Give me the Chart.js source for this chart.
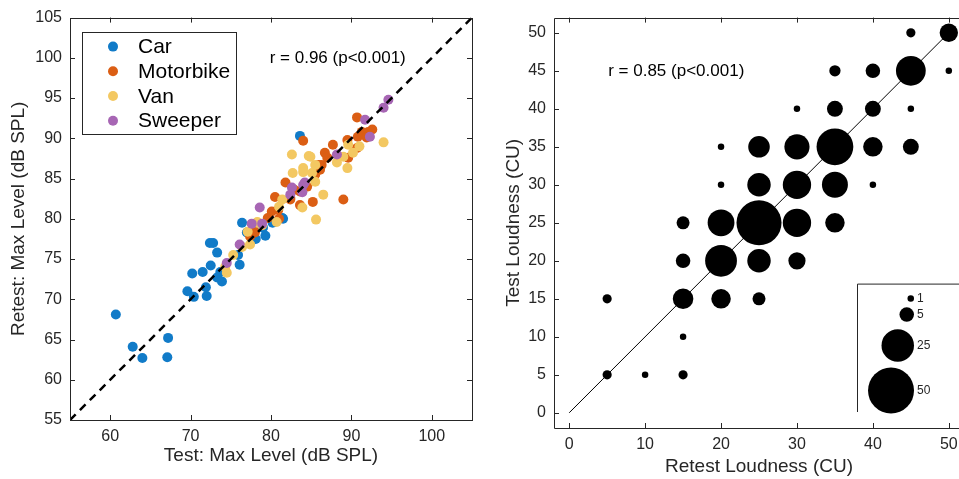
<!DOCTYPE html>
<html><head><meta charset="utf-8">
<script src="https://cdn.jsdelivr.net/npm/chart.js@4.4.0/dist/chart.umd.min.js"></script>
<style>
html,body{margin:0;padding:0;width:959px;height:479px;overflow:hidden;background:#fff;}
#w1{position:absolute;left:0;top:0;width:490px;height:479px;}
#clip{position:absolute;left:490px;top:0;width:469px;height:479px;overflow:hidden;}
#w2{position:absolute;left:0;top:0;width:510px;height:479px;}
</style></head><body>
<div id="w1"><canvas id="c1"></canvas></div>
<div id="clip"><div id="w2"><canvas id="c2"></canvas></div></div>
<script>
// ---------- Left panel data (Test vs Retest max level, dB SPL) ----------
const carTest    = [60.7,62.8,64.0,67.1,67.2,83.6,76.4,72.8,73.3,72.5,70.2,71.5,73.3,73.7,73.9,71.9,69.6,70.4,72.0,76.1,75.9,78.1,79.0,78.1,79.3,81.4,80.2,77.0,81.5,72.4];
const carRetest  = [68.1,64.1,62.7,62.8,65.2,90.3,79.5,77.0,75.8,74.2,73.2,73.4,72.7,73.4,72.2,71.5,71.0,70.3,70.4,74.3,75.5,78.8,78.9,77.5,77.9,80.1,79.5,78.3,80.0,77.0];
const motoTest   = [90.7,91.3,90.8,92.1,92.6,91.9,89.5,87.7,90.7,86.7,87.0,86.3,86.1,89.6,84.0,85.2,89.0,83.6,81.8,82.9,82.4,83.6,82.4,80.5,79.6,80.1,80.9,77.8,77.4,85.9,85.5,84.5,81.0,78.0];
const motoRetest = [92.6,90.8,90.2,90.8,91.1,90.1,89.8,89.2,88.8,88.2,87.6,86.7,86.1,87.6,89.7,82.1,82.4,83.4,84.5,83.6,82.6,81.7,82.4,82.7,80.1,80.9,81.1,78.6,77.8,86.7,85.5,84.0,80.0,78.3];
const vanTest    = [94.0,89.6,90.2,89.0,88.2,89.5,84.9,85.5,84.0,85.5,86.5,82.6,84.7,84.0,85.1,82.7,81.4,80.7,78.3,78.9,83.9,85.6,77.1,78.3,77.4,76.4,75.3,74.5,74.3,81.0,91.0];
const vanRetest  = [89.5,89.2,88.2,87.7,87.0,86.3,87.7,86.7,86.3,84.6,83.0,88.0,87.8,85.8,85.7,85.7,82.4,79.6,79.6,79.2,81.4,79.9,78.4,79.5,76.8,76.5,75.5,73.3,74.0,81.5,89.0];
const swpTest    = [94.6,94.0,91.7,92.3,88.2,84.0,84.2,82.6,83.9,82.4,78.6,77.6,76.1,74.5,78.9];
const swpRetest  = [94.8,93.8,92.3,90.2,88.0,84.2,84.5,83.9,83.3,83.0,81.4,79.4,76.8,74.5,79.4];
const leftXTicks = [60,70,80,90,100];
const leftYTicks = [55,60,65,70,75,80,85,90,95,100,105];
const leftR = "r = 0.96 (p<0.001)";

// ---------- Right panel data (loudness, CU; count per cell) ----------
const bubRetest = [45,50, 35,40,45,50, 30,35,40,45, 20,25,30,35,40,45, 20,25,30,35,40, 15,20,25,30,35, 15,20,25,30, 5,15,20,25, 15, 5,10,15];
const bubTest   = [50,50, 45,45,45,45, 40,40,40,40, 35,35,35,35,35,35, 30,30,30,30,30, 25,25,25,25,25, 20,20,20,20, 15,15,15,15, 10, 5,5,5];
const bubCount  = [2,8, 3,5,21,1, 1,6,6,1, 1,11,15,32,9,6, 1,13,19,16,1, 4,17,48,19,9, 5,24,13,7, 2,10,9,4, 1, 2,1,2];
const bubLegend = [1,5,25,50];
const rightXTicks = [0,10,20,30,40,50];
const rightYTicks = [0,5,10,15,20,25,30,35,40,45,50];
const rightR = "r = 0.85 (p<0.001)";

const AX = '#262626';
const FONT = "'Liberation Sans', Arial, sans-serif";
const rad = n => 3.25*Math.sqrt(n);
const pts = (xs, ys) => xs.map((x,i)=>({x, y: ys[i]}));

Chart.defaults.font.family = FONT;
Chart.defaults.color = AX;
Chart.defaults.animation = false;

// box + inward ticks (right edge optional)
const boxPlugin = {
  id: 'box',
  afterDatasetsDraw(chart, args, opts) {
    const {ctx, chartArea: a, scales: {x, y}} = chart;
    const showRight = opts.right !== false;
    const L0 = Math.round(a.left)+0.5, T0 = Math.round(a.top)+0.5, B0 = Math.round(a.bottom)+0.5, R0 = Math.round(a.right)+0.5;
    ctx.save();
    ctx.strokeStyle = AX; ctx.lineWidth = 1;
    ctx.beginPath();
    if (showRight) { ctx.moveTo(R0, T0); ctx.lineTo(R0, B0); }
    ctx.moveTo(a.right + 1, T0); ctx.lineTo(L0, T0); ctx.lineTo(L0, B0); ctx.lineTo(a.right + 1, B0);
    const L = 5;
    x.ticks.forEach(t => { const px = Math.round(x.getPixelForValue(t.value))+0.5;
      ctx.moveTo(px, a.bottom); ctx.lineTo(px, a.bottom-L);
      ctx.moveTo(px, a.top); ctx.lineTo(px, a.top+L); });
    y.ticks.forEach(t => { const py = Math.round(y.getPixelForValue(t.value))+0.5;
      ctx.moveTo(a.left, py); ctx.lineTo(a.left+L, py);
      if (showRight) { ctx.moveTo(a.right, py); ctx.lineTo(a.right-L, py); } });
    ctx.stroke();
    ctx.restore();
  }
};

const textPlugin = {
  id: 'rtext',
  afterDraw(chart, args, opts) {
    const {ctx, scales: {x, y}} = chart;
    ctx.save();
    ctx.font = '17px ' + FONT; ctx.fillStyle = '#000';
    ctx.textAlign = 'center'; ctx.textBaseline = 'middle';
    ctx.fillText(opts.text, x.getPixelForValue(opts.x), y.getPixelForValue(opts.y));
    ctx.restore();
  }
};

const legendPlugin = {
  id: 'mlegend',
  afterDraw(chart) {
    const {ctx, chartArea: a} = chart;
    const x0 = a.left + 12, y0 = a.top + 14, w = 154, h = 102;
    ctx.save();
    ctx.fillStyle = '#fff'; ctx.fillRect(x0, y0, w, h);
    ctx.strokeStyle = AX; ctx.lineWidth = 1;
    ctx.strokeRect(Math.round(x0)+0.5, Math.round(y0)+0.5, w, h);
    ctx.font = '21px ' + FONT; ctx.textBaseline = 'middle'; ctx.textAlign = 'left';
    chart.data.datasets.filter(d => d.isGroup).forEach((d, i) => {
      const cy = y0 + 15 + i*24.7;
      ctx.fillStyle = d.backgroundColor;
      ctx.beginPath(); ctx.arc(x0 + 31, cy, 5, 0, Math.PI*2); ctx.fill();
      ctx.fillStyle = '#000';
      ctx.fillText(d.label, x0 + 56, cy + 1);
    });
    ctx.restore();
  }
};

const bubbleLegendPlugin = {
  id: 'blegend',
  afterDraw(chart) {
    const {ctx, chartArea: a} = chart;
    const x0 = a.left + 303, y0 = a.top + 266, yb = a.bottom - 16;
    ctx.save();
    ctx.strokeStyle = AX; ctx.lineWidth = 1;
    ctx.beginPath();
    ctx.moveTo(x0+0.5, yb); ctx.lineTo(x0+0.5, y0+0.5); ctx.lineTo(x0+200, y0+0.5);
    ctx.stroke();
    const cys = [15, 31, 62, 107];
    ctx.font = '12px ' + FONT; ctx.textBaseline = 'middle'; ctx.textAlign = 'left';
    bubLegend.forEach((n, i) => {
      const r = rad(n);
      ctx.fillStyle = '#000';
      ctx.beginPath(); ctx.arc(x0 + 57 - r, y0 + cys[i], r, 0, Math.PI*2); ctx.fill();
      ctx.fillStyle = AX;
      ctx.fillText(String(n), x0 + 60, y0 + cys[i]);
    });
    ctx.restore();
  }
};

function axis(min, max, ticks, title, isX, w, tickPad, titlePad) {
  return {
    type: 'linear', min, max,
    afterBuildTicks: s => { s.ticks = ticks.map(v => ({value: v})); },
    afterFit: s => { if (isX) s.height = w; else s.width = w; },
    grid: {display: false, drawTicks: false},
    border: {display: false},
    ticks: {padding: tickPad, font: {size: 16}, color: AX, maxRotation: 0, autoSkip: false},
    title: {display: true, text: title, font: {size: 19}, color: AX, padding: titlePad}
  };
}

const C = ['#117BC8', '#DB5E14', '#F3C862', '#A766B4'];
new Chart(document.getElementById('c1'), {
  type: 'scatter',
  data: {datasets: [
    {type: 'line', label: 'identity', data: [{x:55,y:55},{x:105,y:105}], borderColor: '#000', borderWidth: 2.5, borderDash: [8,6], pointRadius: 0, order: 0},
    {label: 'Car', isGroup: true, data: pts(carTest, carRetest), backgroundColor: C[0], borderWidth: 0, pointRadius: 5, order: 4},
    {label: 'Motorbike', isGroup: true, data: pts(motoTest, motoRetest), backgroundColor: C[1], borderWidth: 0, pointRadius: 5, order: 3},
    {label: 'Van', isGroup: true, data: pts(vanTest, vanRetest), backgroundColor: C[2], borderWidth: 0, pointRadius: 5, order: 2},
    {label: 'Sweeper', isGroup: true, data: pts(swpTest, swpRetest), backgroundColor: C[3], borderWidth: 0, pointRadius: 5, order: 1}
  ]},
  options: {
    responsive: true, maintainAspectRatio: false,
    layout: {padding: {top: 17, right: 18, left: 0, bottom: 0}, autoPadding: false},
    events: [],
    plugins: {legend: {display: false}, tooltip: {enabled: false},
      rtext: {text: leftR, x: 88.3, y: 99.9}, box: {right: true}},
    scales: {
      x: axis(55, 105, leftXTicks, 'Test: Max Level (dB SPL)', true, 59, 7, {top: 0, bottom: 12}),
      y: axis(55, 105, leftYTicks, 'Retest: Max Level (dB SPL)', false, 70, 8, {top: 7, bottom: 0})
    }
  },
  plugins: [boxPlugin, textPlugin, legendPlugin]
});

new Chart(document.getElementById('c2'), {
  type: 'bubble',
  data: {datasets: [
    {type: 'line', label: 'identity', data: [{x:0,y:0},{x:50,y:50}], borderColor: '#000', borderWidth: 1, pointRadius: 0, order: 0},
    {label: 'counts', data: bubRetest.map((x,i)=>({x, y: bubTest[i], r: rad(bubCount[i])})), backgroundColor: '#000', borderWidth: 0, order: 1}
  ]},
  options: {
    responsive: true, maintainAspectRatio: false,
    layout: {padding: {top: 17, right: 36, left: 0, bottom: 0}, autoPadding: false},
    events: [],
    plugins: {legend: {display: false}, tooltip: {enabled: false},
      rtext: {text: rightR, x: 14.1, y: 44.9}, box: {right: false}},
    scales: {
      x: axis(-2, 52, rightXTicks, 'Retest Loudness (CU)', true, 51, 7, {top: 0, bottom: 1}),
      y: axis(-2, 52, rightYTicks, 'Test Loudness (CU)', false, 64, 8, {top: 12, bottom: 0})
    }
  },
  plugins: [boxPlugin, textPlugin, bubbleLegendPlugin]
});
</script>
</body></html>
